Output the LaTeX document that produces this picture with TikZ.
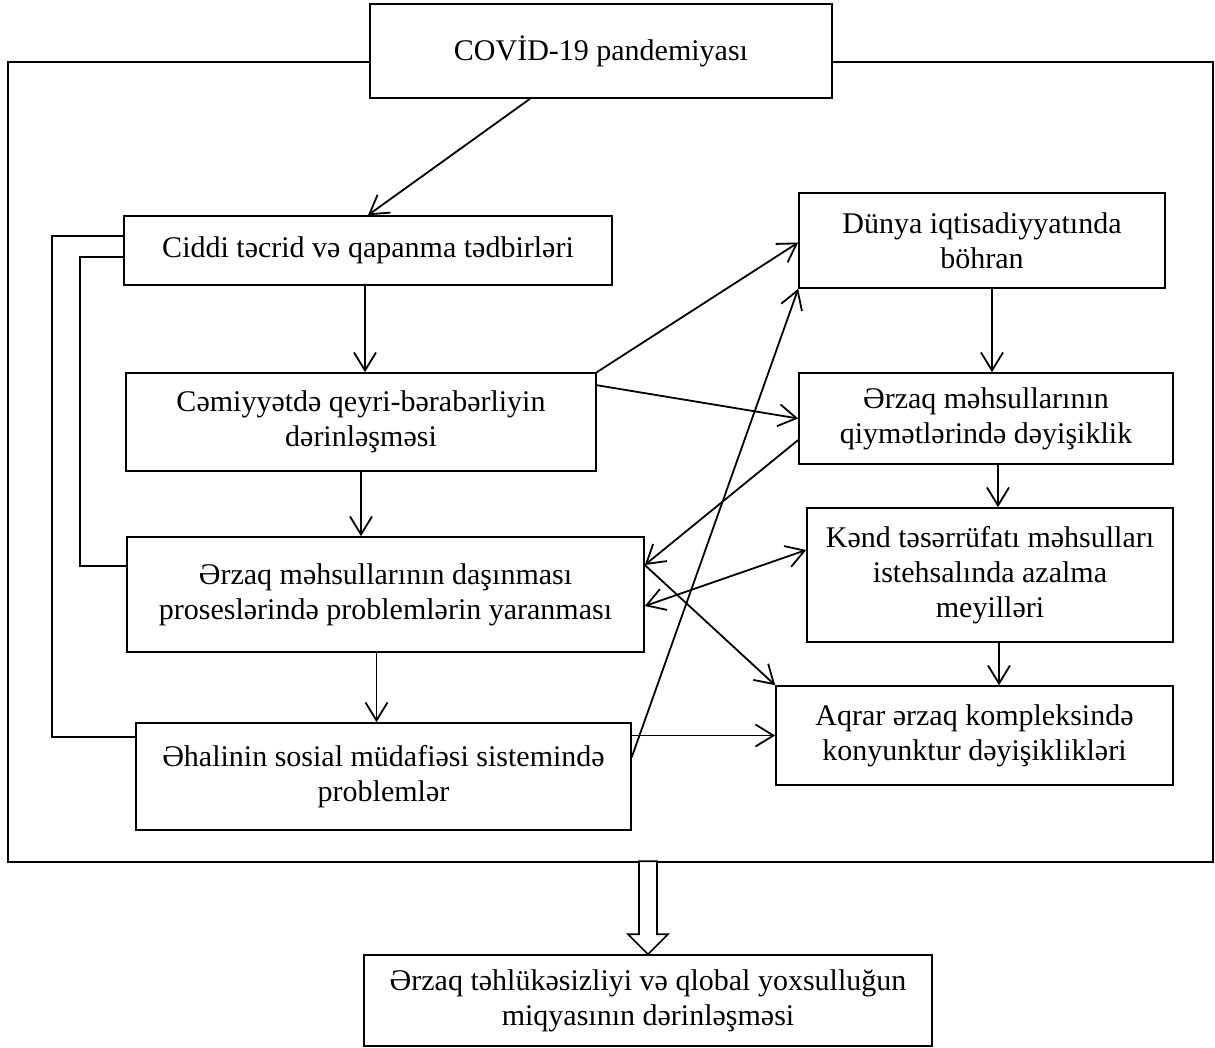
\documentclass[tikz,border=0pt]{standalone}
\usepackage{fontspec}
\setmainfont{Liberation Serif}
\usetikzlibrary{arrows.meta}
\begin{document}
\begin{tikzpicture}[x=0.5pt, y=-0.5pt, font=\fontsize{15}{17.5}\selectfont,
  box/.style={draw, line width=0.8pt, align=center, inner sep=0pt},
  arr/.style={line width=0.9pt, -{Straight Barb[length=9pt, width=11pt]}},
  darr/.style={line width=0.9pt, {Straight Barb[length=9pt, width=11pt]}-{Straight Barb[length=9pt, width=11pt]}},
  link/.style={line width=0.9pt},
  frame/.style={line width=1.4pt},
  fat/.style={draw, line width=0.8pt, fill=white}]
  \useasboundingbox (0,0) rectangle (1215,1048);
  \node[box, minimum width=231pt, minimum height=47pt] (covid) at (601,51) {COVİD-19 pandemiyası};
  \node[box, minimum width=244pt, minimum height=34.5pt] (ciddi) at (368,250.5) {Ciddi təcrid və qapanma tədbirləri};
  \node[box, minimum width=235pt, minimum height=49pt] (cemiyyet) at (361,422) {Cəmiyyətdə qeyri-bərabərliyin\\dərinləşməsi};
  \node[box, minimum width=258.5pt, minimum height=57.5pt] (dasinma) at (385.5,594.5) {Ərzaq məhsullarının daşınması\\proseslərində problemlərin yaranması};
  \node[box, minimum width=247.5pt, minimum height=53.5pt] (ehali) at (383.5,776.5) {Əhalinin sosial müdafiəsi sistemində\\problemlər};
  \node[box, minimum width=183pt, minimum height=47.5pt] (dunya) at (982,240.5) {Dünya iqtisadiyyatında\\böhran};
  \node[box, minimum width=187pt, minimum height=45.5pt] (qiymet) at (986,418.5) {Ərzaq məhsullarının\\qiymətlərində dəyişiklik};
  \node[box, minimum width=183pt, minimum height=67pt] (kend) at (990,575) {Kənd təsərrüfatı məhsulları\\istehsalında azalma\\meyilləri};
  \node[box, minimum width=198.5pt, minimum height=49.5pt] (aqrar) at (974.5,735.5) {Aqrar ərzaq kompleksində\\konyunktur dəyişiklikləri};
  \node[box, minimum width=284pt, minimum height=45.5pt] (result) at (648,1000.5) {Ərzaq təhlükəsizliyi və qlobal yoxsulluğun\\miqyasının dərinləşməsi};
  \coordinate (fbl) at (8,862);
  \coordinate (ftr) at (1213,62);
  \draw[frame] ([yshift=-5.5pt]covid.west) -| (fbl) -| (ftr) -- ([yshift=-5.5pt]covid.east);
  \draw[arr] ([xshift=-35.5pt]covid.south) -- (ciddi.north);
  \draw[arr] ([xshift=-1.5pt]ciddi.south) -- ([xshift=-1.5pt]ciddi.south |- cemiyyet.north);
  \draw[arr] (cemiyyet.south) -- (cemiyyet.south |- dasinma.north);
  \draw[arr] ([xshift=-4.5pt]dasinma.south) -- ([xshift=-4.5pt]dasinma.south |- ehali.north);
  \draw[arr] ([xshift=5pt]dunya.south) -- ([xshift=5pt]dunya.south |- qiymet.north);
  \draw[arr] ([xshift=6pt]qiymet.south) -- ([xshift=6pt]qiymet.south |- kend.north);
  \draw[arr] ([xshift=4.5pt]kend.south) -- ([xshift=4.5pt]kend.south |- aqrar.north);
  \draw[arr] (cemiyyet.north east) -- ([yshift=-1pt]dunya.west);
  \draw[arr] ([yshift=-6.5pt]cemiyyet.north east) -- (qiymet.west);
  \draw[arr] ([yshift=-10.75pt]qiymet.west) -- ([yshift=14.75pt]dasinma.east);
  \draw[darr] ([yshift=-5.75pt]dasinma.east) -- ([yshift=12.5pt]kend.west);
  \draw[arr] ([yshift=14.75pt]dasinma.east) -- (aqrar.north west);
  \draw[arr] ([yshift=9.75pt]ehali.east) -- (dunya.south west);
  \draw[arr] (aqrar.west -| ehali.east) -- (aqrar.west);
  \draw[link] ([yshift=7.25pt]ciddi.west) -- ++(-35.5pt,0) |- ([yshift=19.75pt]ehali.west);
  \draw[link] ([yshift=-3.25pt]ciddi.west) -- ++(-21.5pt,0) |- ([yshift=14.25pt]dasinma.west);
  \draw[fat] (result.north) -- ++(-20,-20) -- ++(11,0) -- ++(0,-73) -- ++(18,0) -- ++(0,73) -- ++(11,0) -- cycle;
\end{tikzpicture}
\end{document}
